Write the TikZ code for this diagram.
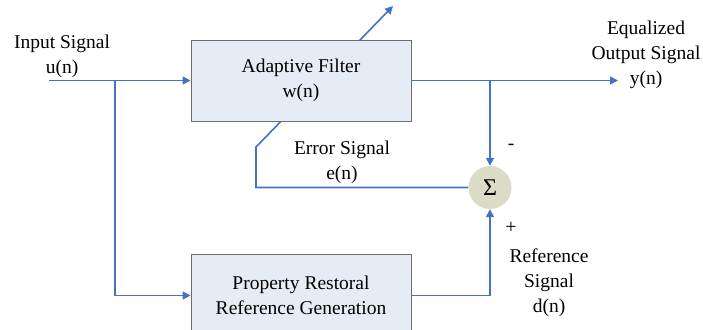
\documentclass[tikz,border=0pt]{standalone}
\usepackage{fontspec}
\setmainfont{Liberation Serif}
\usetikzlibrary{arrows.meta}
\definecolor{sigblue}{HTML}{4472C4}
\definecolor{boxfill}{HTML}{E6ECF6}
\definecolor{boxline}{HTML}{6E6E6E}
\definecolor{sumfill}{HTML}{DCDCC6}
\begin{document}
\begin{tikzpicture}[
    x=1pt, y=-1pt,
    block/.style={rectangle, draw=boxline, fill=boxfill, line width=0.9pt, minimum width=220pt, align=center, font=\fontsize{19.5}{25}\selectfont},
    sumnode/.style={circle, fill=sumfill, minimum size=43pt, inner sep=0pt, font=\fontsize{24}{28}\selectfont},
    lbl/.style={align=center, inner sep=0pt, font=\fontsize{19.5}{25}\selectfont},
    sig/.style={draw=sigblue, line width=1.6pt, -{Triangle[length=8pt,width=8pt]}}
]
    \useasboundingbox (0,0) rectangle (703,329);

    % Summing junction
    \node[sumnode] (sum) at (490,187.5) {Σ};

    % Error path (runs behind the filter)
    \coordinate (errcorner) at (256,187.5);
    \coordinate (errbend) at (256,147);
    \coordinate (adapt) at (393,6);
    \draw[sig] (sum.west) -- (errcorner) -- (errbend) -- (adapt);

    % Blocks
    \node[block, minimum height=81pt] (filter) at (301,80.5) {Adaptive Filter\\w(n)};
    \node[block, minimum height=83pt] (restoral) at (301,295.5) {Property Restoral\\Reference Generation};

    % Signal lines
    \coordinate (in) at (49,80.5);
    \coordinate (split) at (115,80.5);
    \coordinate (tap) at (490,80.5);
    \coordinate (out) at (618,80.5);
    \draw[sig] (in) -- (filter.west);
    \draw[sig] (split) |- (restoral.west);
    \draw[sig] (filter.east) -- (out);
    \draw[sig] (tap) -- (sum.north);
    \draw[sig] (restoral.east) -| (sum.south);

    % Labels
    \node[lbl] (inlabel) at (62,56) {Input Signal\\u(n)};
    \node[lbl] (outlabel) at (646,55) {Equalized\\Output Signal\\y(n)};
    \node[lbl] (errlabel) at (342,162) {Error Signal\\e(n)};
    \node[lbl] (reflabel) at (549,283) {Reference\\Signal\\d(n)};
    \node[lbl] (minus) at (511,147) {-};
    \node[lbl, font=\fontsize{20}{22}\selectfont] (plus) at (511,228) {+};
\end{tikzpicture}
\end{document}
